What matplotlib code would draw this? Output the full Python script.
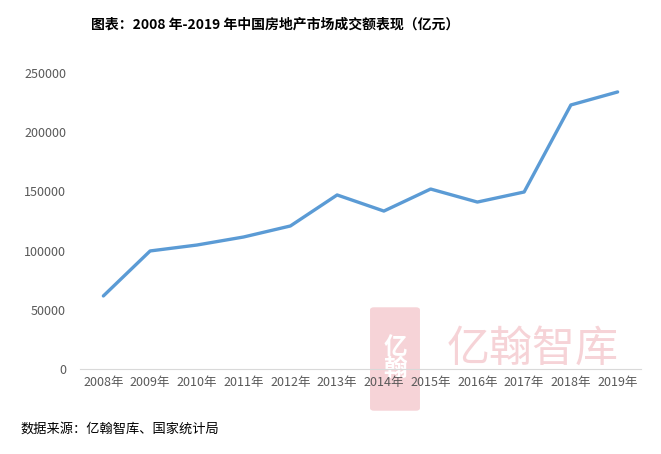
import matplotlib
matplotlib.use("Agg")
from matplotlib import pyplot as plt
from matplotlib.patches import FancyBboxPatch

plt.rcParams['font.family'] = ['Noto Sans CJK SC', 'DejaVu Sans']

years = ['2008年', '2009年', '2010年', '2011年', '2012年', '2013年',
         '2014年', '2015年', '2016年', '2017年', '2018年', '2019年']
sales = [61700, 99700, 104700, 111500, 120800, 147000,
         133400, 152000, 141000, 149500, 223000, 234000]
yticks = [0, 50000, 100000, 150000, 200000, 250000]

fig = plt.figure(figsize=(6.61, 4.54), dpi=100)
ax = fig.add_axes([80 / 661, 1 - 369 / 454, 561 / 661, 296 / 454])

# watermark, kept behind the axes
fig.patches.append(FancyBboxPatch((374 / 661, 1 - 408 / 454), 42 / 661, 98 / 454,
                                  boxstyle="round,pad=0.006", transform=fig.transFigure,
                                  facecolor='#F6D3D7', edgecolor='none', zorder=-2))
fig.text(395 / 661, 1 - 358 / 454, '亿\n翰', color='white', fontsize=17, fontweight='bold',
         ha='center', va='center', linespacing=0.9, zorder=-1)
fig.text(533 / 661, 1 - 350 / 454, '亿翰智库', color='#F6D3D7', fontsize=31,
         ha='center', va='center', zorder=-1)

x = range(len(years))
ax.plot(x, sales, color='#5B9BD5', linewidth=2.4, solid_capstyle='round', zorder=3)
ax.patch.set_alpha(0)

ax.set_xlim(-0.5, len(years) - 0.5)
ax.set_ylim(0, 250000)
ax.set_yticks(yticks)
ax.set_yticklabels([str(v) for v in yticks])
ax.set_xticks(list(x))
ax.set_xticklabels(years)
ax.tick_params(axis='both', length=0, colors='#595959', labelsize=9)
ax.tick_params(axis='y', pad=10)
ax.tick_params(axis='x', pad=5)
for s in ['top', 'right', 'left']:
    ax.spines[s].set_visible(False)
ax.spines['bottom'].set_color('#D9D9D9')

fig.text(275 / 661, 1 - 25 / 454, '图表：2008 年-2019 年中国房地产市场成交额表现（亿元）',
         ha='center', va='center', fontsize=10, fontweight='bold', color='black')
fig.text(20 / 661, 1 - 429 / 454, '数据来源：亿翰智库、国家统计局',
         ha='left', va='center', fontsize=9.5, color='black')

fig.savefig('out.png', dpi=100)
